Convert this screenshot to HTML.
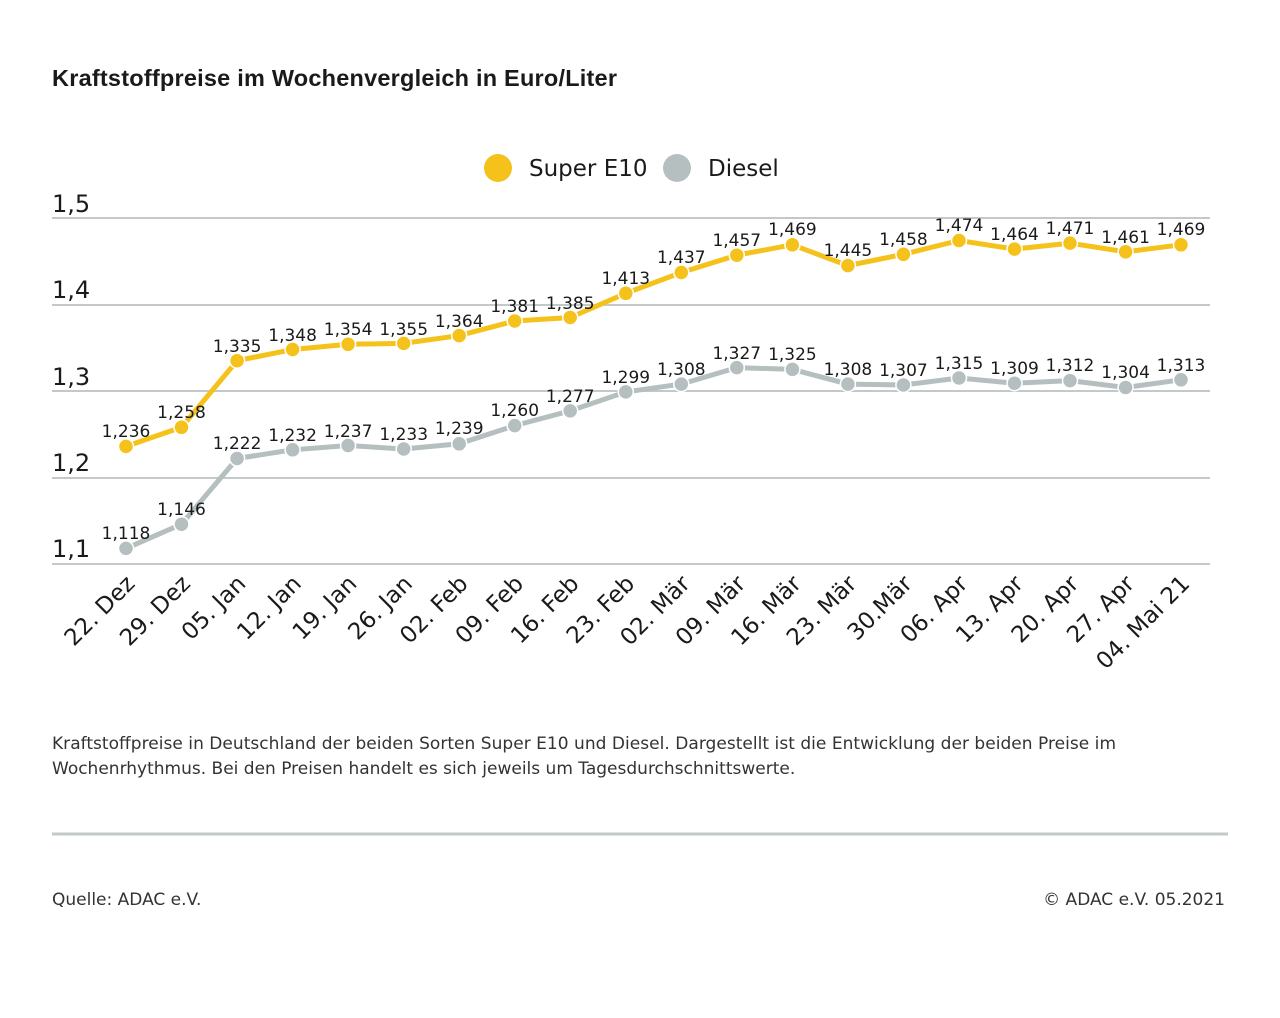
<!DOCTYPE html>
<html><head><meta charset="utf-8"><style>
body{margin:0;background:#fff;}
svg{display:block;font-family:"DejaVu Sans","Liberation Sans",sans-serif;}
</style></head><body>
<svg width="1280" height="1018" viewBox="0 0 1280 1018">
<text x="52" y="86" font-size="23.5" font-weight="bold" fill="#1a1a1a" font-family="Liberation Sans, sans-serif" textLength="565">Kraftstoffpreise im Wochenvergleich in Euro/Liter</text>
<circle cx="498" cy="168" r="14" fill="#f5c21b"/>
<text x="529" y="176" font-size="23" fill="#1a1a1a">Super E10</text>
<circle cx="677" cy="168" r="14" fill="#b5bfbf"/>
<text x="708" y="176" font-size="23" fill="#1a1a1a">Diesel</text>
<g stroke="#c3c8c8" stroke-width="2">
<line x1="52" y1="218" x2="1210" y2="218"/><line x1="52" y1="305" x2="1210" y2="305"/>
<line x1="52" y1="391" x2="1210" y2="391"/><line x1="52" y1="478" x2="1210" y2="478"/>
<line x1="52" y1="564" x2="1210" y2="564"/></g>
<g font-size="24" fill="#1a1a1a">
<text x="52" y="212">1,5</text><text x="52" y="298">1,4</text><text x="52" y="385">1,3</text><text x="52" y="471">1,2</text><text x="52" y="557">1,1</text></g>
<polyline fill="none" stroke="#f5c21b" stroke-width="5" points="126,446.4 181.5,427.3 237.1,360.7 292.6,349.5 348.1,344.3 403.7,343.4 459.2,335.6 514.7,321 570.2,317.5 625.8,293.3 681.3,272.5 736.8,255.2 792.4,244.8 847.9,265.6 903.4,254.3 959,240.5 1014.5,249.1 1070,243.1 1125.6,251.8 1181,244.8"/>
<polyline fill="none" stroke="#b5bfbf" stroke-width="5" points="126,548.4 181.5,524.2 237.1,458.5 292.6,449.8 348.1,445.5 403.7,449 459.2,443.8 514.7,425.6 570.2,410.9 625.8,391.9 681.3,384.1 736.8,367.6 792.4,369.4 847.9,384.1 903.4,385 959,378 1014.5,383.2 1070,380.6 1125.6,387.5 1181,379.8"/>
<g fill="#f5c21b" stroke="#fff" stroke-width="1.5">
<circle cx="126" cy="446.4" r="7.5"/><circle cx="181.5" cy="427.3" r="7.5"/><circle cx="237.1" cy="360.7" r="7.5"/><circle cx="292.6" cy="349.5" r="7.5"/><circle cx="348.1" cy="344.3" r="7.5"/><circle cx="403.7" cy="343.4" r="7.5"/><circle cx="459.2" cy="335.6" r="7.5"/><circle cx="514.7" cy="321" r="7.5"/><circle cx="570.2" cy="317.5" r="7.5"/><circle cx="625.8" cy="293.3" r="7.5"/><circle cx="681.3" cy="272.5" r="7.5"/><circle cx="736.8" cy="255.2" r="7.5"/><circle cx="792.4" cy="244.8" r="7.5"/><circle cx="847.9" cy="265.6" r="7.5"/><circle cx="903.4" cy="254.3" r="7.5"/><circle cx="959" cy="240.5" r="7.5"/><circle cx="1014.5" cy="249.1" r="7.5"/><circle cx="1070" cy="243.1" r="7.5"/><circle cx="1125.6" cy="251.8" r="7.5"/><circle cx="1181" cy="244.8" r="7.5"/></g>
<g fill="#b5bfbf" stroke="#fff" stroke-width="1.5">
<circle cx="126" cy="548.4" r="7.5"/><circle cx="181.5" cy="524.2" r="7.5"/><circle cx="237.1" cy="458.5" r="7.5"/><circle cx="292.6" cy="449.8" r="7.5"/><circle cx="348.1" cy="445.5" r="7.5"/><circle cx="403.7" cy="449" r="7.5"/><circle cx="459.2" cy="443.8" r="7.5"/><circle cx="514.7" cy="425.6" r="7.5"/><circle cx="570.2" cy="410.9" r="7.5"/><circle cx="625.8" cy="391.9" r="7.5"/><circle cx="681.3" cy="384.1" r="7.5"/><circle cx="736.8" cy="367.6" r="7.5"/><circle cx="792.4" cy="369.4" r="7.5"/><circle cx="847.9" cy="384.1" r="7.5"/><circle cx="903.4" cy="385" r="7.5"/><circle cx="959" cy="378" r="7.5"/><circle cx="1014.5" cy="383.2" r="7.5"/><circle cx="1070" cy="380.6" r="7.5"/><circle cx="1125.6" cy="387.5" r="7.5"/><circle cx="1181" cy="379.8" r="7.5"/></g>
<g font-size="17" fill="#1a1a1a" text-anchor="middle">
<text x="126" y="437">1,236</text><text x="181.5" y="418">1,258</text><text x="237.1" y="352">1,335</text><text x="292.6" y="341">1,348</text><text x="348.1" y="335">1,354</text><text x="403.7" y="335">1,355</text><text x="459.2" y="327">1,364</text><text x="514.7" y="312">1,381</text><text x="570.2" y="309">1,385</text><text x="625.8" y="284">1,413</text><text x="681.3" y="263">1,437</text><text x="736.8" y="246">1,457</text><text x="792.4" y="235">1,469</text><text x="847.9" y="256">1,445</text><text x="903.4" y="245">1,458</text><text x="959" y="231">1,474</text><text x="1014.5" y="240">1,464</text><text x="1070" y="234">1,471</text><text x="1125.6" y="243">1,461</text><text x="1181" y="235">1,469</text>
<text x="126" y="539">1,118</text><text x="181.5" y="515">1,146</text><text x="237.1" y="449">1,222</text><text x="292.6" y="441">1,232</text><text x="348.1" y="437">1,237</text><text x="403.7" y="440">1,233</text><text x="459.2" y="434">1,239</text><text x="514.7" y="416">1,260</text><text x="570.2" y="402">1,277</text><text x="625.8" y="383">1,299</text><text x="681.3" y="375">1,308</text><text x="736.8" y="359">1,327</text><text x="792.4" y="360">1,325</text><text x="847.9" y="375">1,308</text><text x="903.4" y="376">1,307</text><text x="959" y="369">1,315</text><text x="1014.5" y="374">1,309</text><text x="1070" y="371">1,312</text><text x="1125.6" y="378">1,304</text><text x="1181" y="371">1,313</text></g>
<g font-size="23" fill="#1a1a1a" text-anchor="end">
<text x="136" y="585" transform="rotate(-45 136 585)">22. Dez</text>
<text x="191.5" y="585" transform="rotate(-45 191.5 585)">29. Dez</text>
<text x="247.1" y="585" transform="rotate(-45 247.1 585)">05. Jan</text>
<text x="302.6" y="585" transform="rotate(-45 302.6 585)">12. Jan</text>
<text x="358.1" y="585" transform="rotate(-45 358.1 585)">19. Jan</text>
<text x="413.7" y="585" transform="rotate(-45 413.7 585)">26. Jan</text>
<text x="469.2" y="585" transform="rotate(-45 469.2 585)">02. Feb</text>
<text x="524.7" y="585" transform="rotate(-45 524.7 585)">09. Feb</text>
<text x="580.2" y="585" transform="rotate(-45 580.2 585)">16. Feb</text>
<text x="635.8" y="585" transform="rotate(-45 635.8 585)">23. Feb</text>
<text x="691.3" y="585" transform="rotate(-45 691.3 585)">02. Mär</text>
<text x="746.8" y="585" transform="rotate(-45 746.8 585)">09. Mär</text>
<text x="802.4" y="585" transform="rotate(-45 802.4 585)">16. Mär</text>
<text x="857.9" y="585" transform="rotate(-45 857.9 585)">23. Mär</text>
<text x="913.4" y="585" transform="rotate(-45 913.4 585)">30.Mär</text>
<text x="969" y="585" transform="rotate(-45 969 585)">06. Apr</text>
<text x="1024.5" y="585" transform="rotate(-45 1024.5 585)">13. Apr</text>
<text x="1080" y="585" transform="rotate(-45 1080 585)">20. Apr</text>
<text x="1135.6" y="585" transform="rotate(-45 1135.6 585)">27. Apr</text>
<text x="1191" y="585" transform="rotate(-45 1191 585)">04. Mai 21</text></g>
<g font-size="17" fill="#333">
<text x="52" y="749" textLength="1064">Kraftstoffpreise in Deutschland der beiden Sorten Super E10 und Diesel. Dargestellt ist die Entwicklung der beiden Preise im</text>
<text x="52" y="774">Wochenrhythmus. Bei den Preisen handelt es sich jeweils um Tagesdurchschnittswerte.</text>
<text x="52" y="905">Quelle: ADAC e.V.</text>
<text x="1225" y="905" text-anchor="end">© ADAC e.V. 05.2021</text></g>
<line x1="52" y1="834" x2="1228" y2="834" stroke="#c3c8c8" stroke-width="3"/>
</svg>
</body></html>
